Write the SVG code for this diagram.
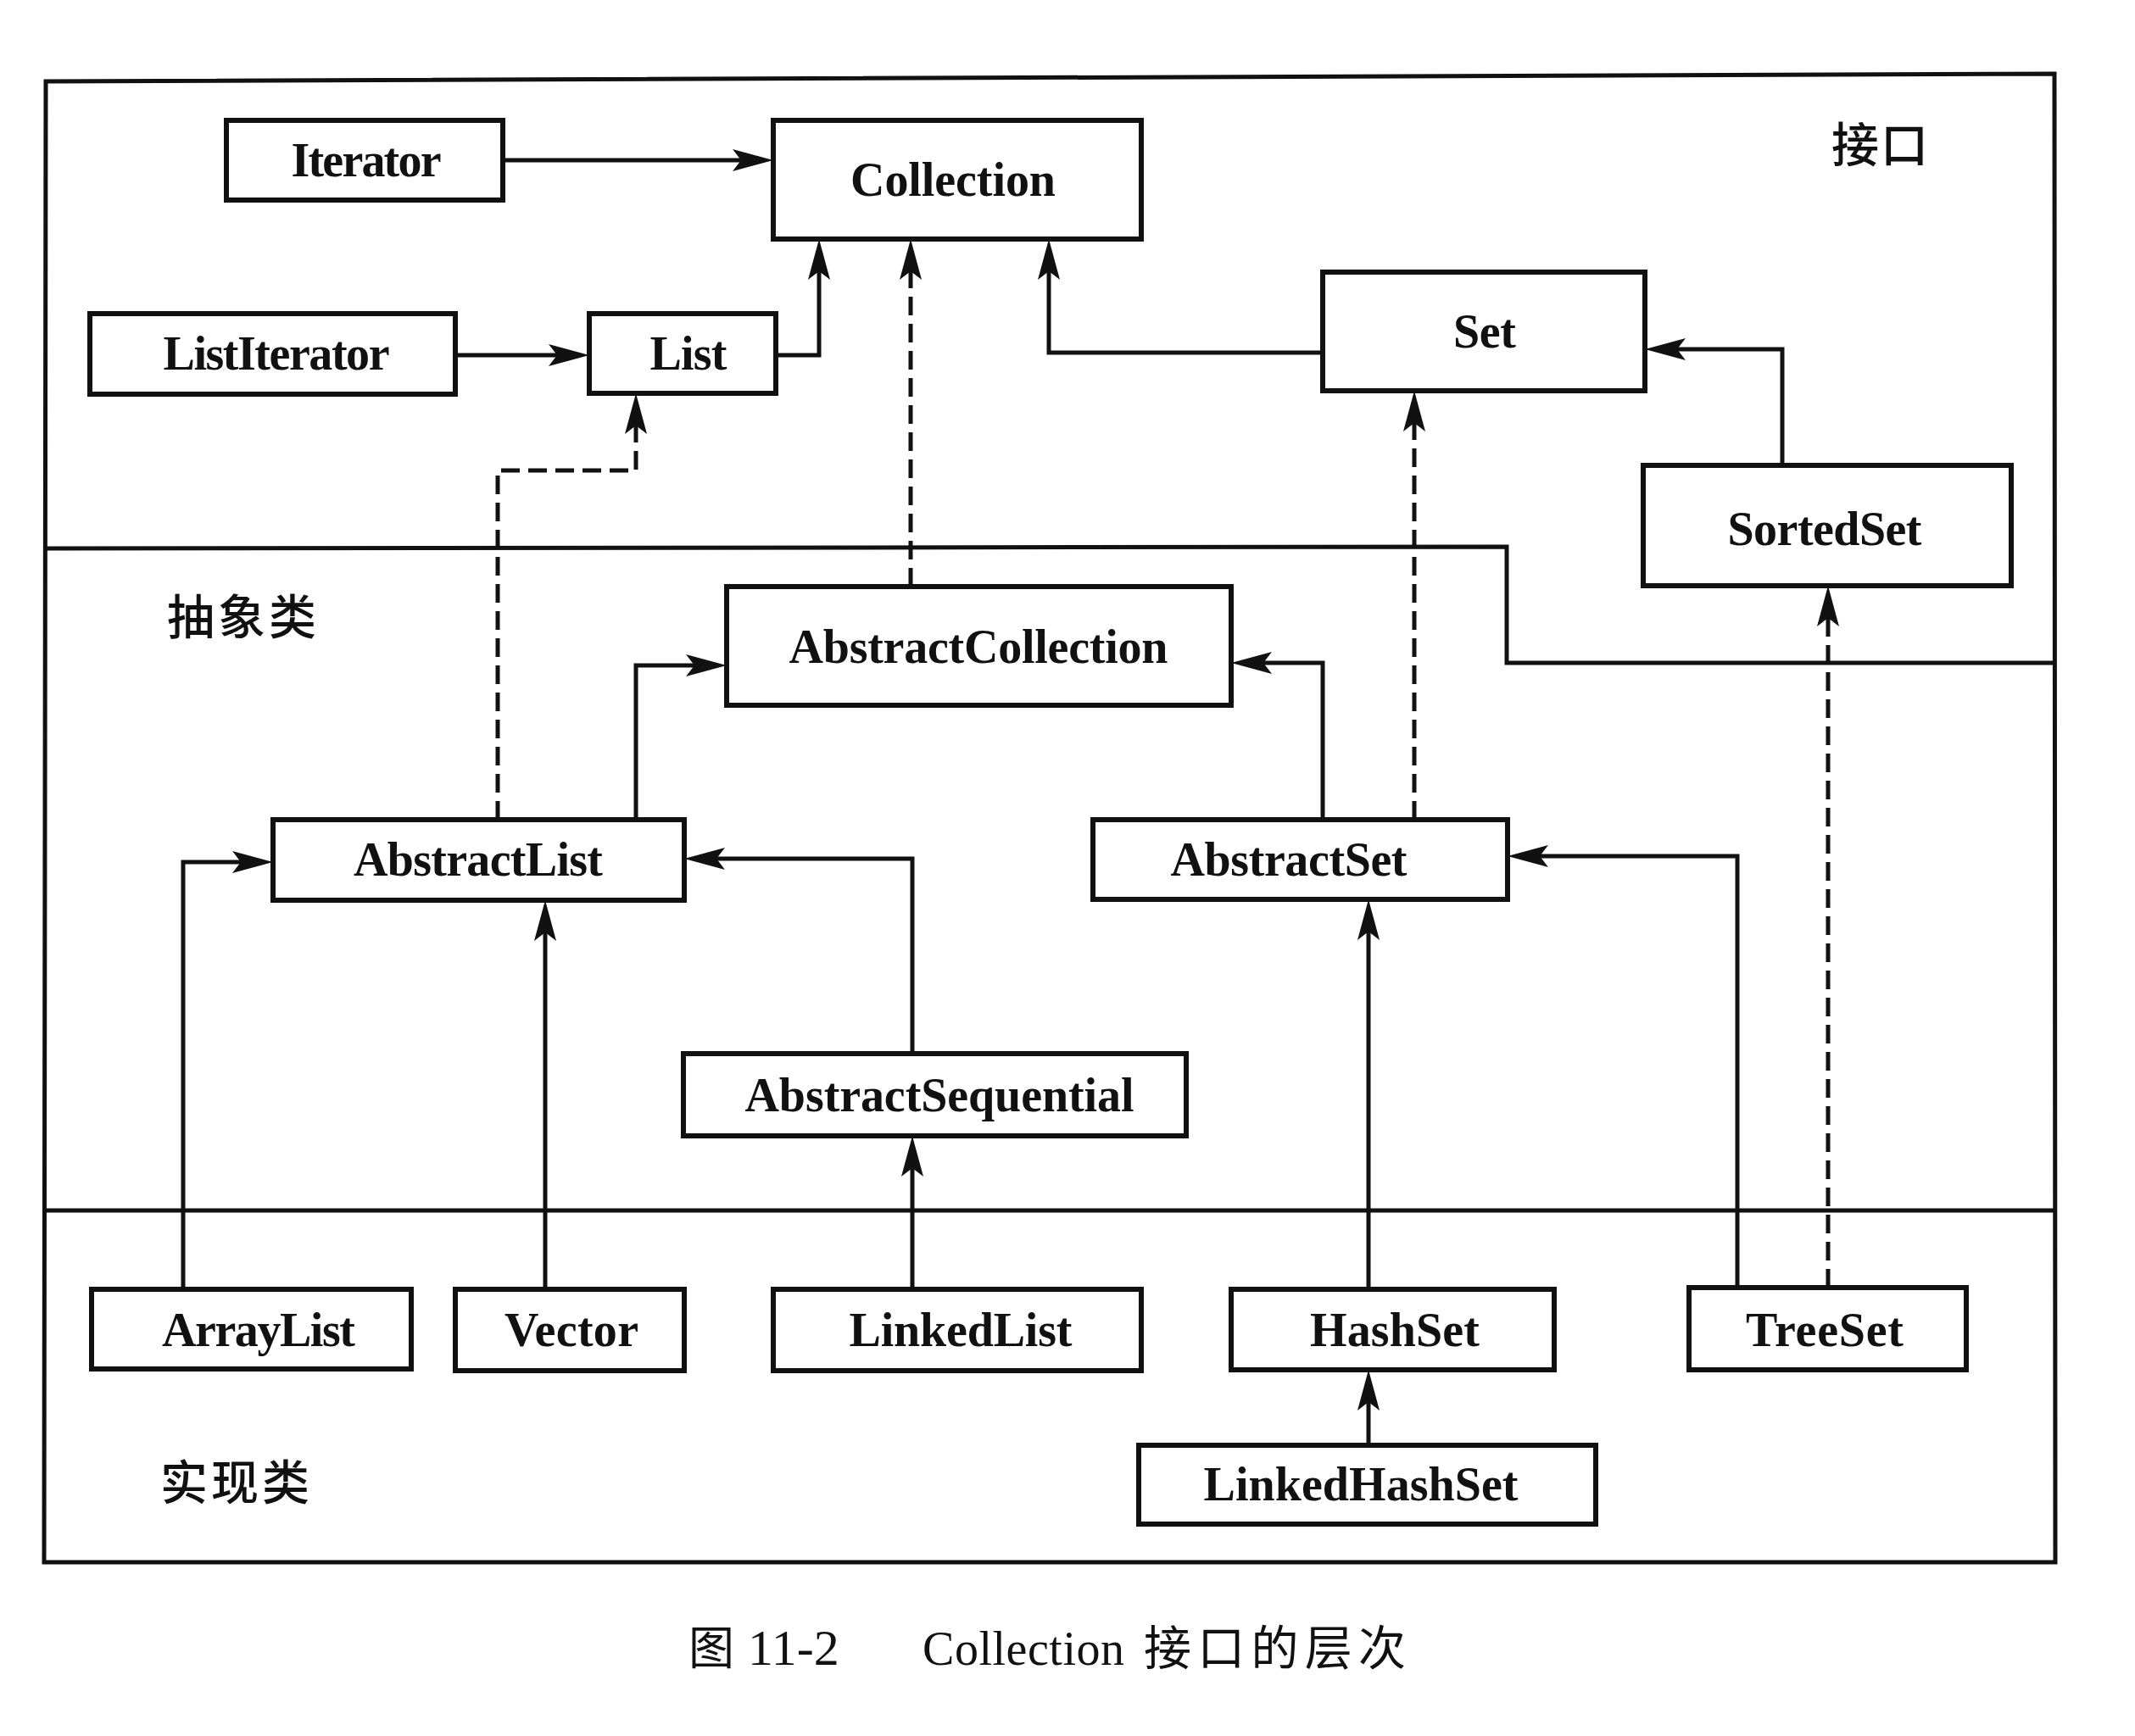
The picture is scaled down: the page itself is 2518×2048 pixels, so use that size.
<svg xmlns="http://www.w3.org/2000/svg" width="2518" height="2048" viewBox="0 0 2518 2048">
<style>
.box{fill:#fff;stroke:#111;stroke-width:6}
.lbl{font-family:"Liberation Serif","Times New Roman",serif;font-weight:bold;font-size:56px;fill:#111;text-anchor:middle}
.cjk{font-family:"Noto Sans CJK SC","Noto Sans CJK JP",sans-serif;font-size:56px;fill:#111}
.frame{fill:none;stroke:#111;stroke-width:5;stroke-linejoin:miter}
.con{fill:none;stroke:#111;stroke-width:5;stroke-linejoin:miter}
.dash{stroke-dasharray:22 10}
</style>
<defs>
<marker id="arr" viewBox="-40 -15 60 30" refX="0" refY="0" markerWidth="60" markerHeight="30" markerUnits="userSpaceOnUse" orient="auto">
<path d="M12,0 L-36,-13 L-26,0 L-36,13 Z" fill="#111"/>
</marker>
</defs>
<rect width="2518" height="2048" fill="#fff"/>
<g id="frame">
<path class="frame" d="M54,96 L2423,87 L2424,1843 L52,1843 Z"/>
<path class="frame" d="M54,647 L1777,645 L1777,782 L2423,782"/>
<path class="frame" d="M54,1428 L2423,1428"/>
<text class="cjk" x="2160" y="191" letter-spacing="2" font-weight="500">接口</text>
<text class="cjk" x="197" y="748" letter-spacing="4" font-weight="500">抽象类</text>
<text class="cjk" x="189" y="1769" letter-spacing="4" font-weight="500">实现类</text>
</g>
<g id="connectors">
<path class="con" d="M593,189 H900" marker-end="url(#arr)"/>
<path class="con" d="M537,419 H683" marker-end="url(#arr)"/>
<path class="con" d="M915,419 H966 V294" marker-end="url(#arr)"/>
<path class="con" d="M1560,416 H1237 V294" marker-end="url(#arr)"/>
<path class="con" d="M2102,549 V412 H1952" marker-end="url(#arr)"/>
<path class="con" d="M750,967 V785 H845" marker-end="url(#arr)"/>
<path class="con" d="M1560,967 V782 H1464" marker-end="url(#arr)"/>
<path class="con" d="M216,1521 V1017 H310" marker-end="url(#arr)"/>
<path class="con" d="M643,1521 V1074" marker-end="url(#arr)"/>
<path class="con" d="M1076,1243 V1013 H819" marker-end="url(#arr)"/>
<path class="con" d="M1076,1521 V1352" marker-end="url(#arr)"/>
<path class="con" d="M1614,1521 V1073" marker-end="url(#arr)"/>
<path class="con" d="M2049,1519 V1010 H1790" marker-end="url(#arr)"/>
<path class="con" d="M1614,1705 V1628" marker-end="url(#arr)"/>
<path class="con dash" d="M1074,692 V294" marker-end="url(#arr)"/>
<path class="con dash" d="M587,967 V555 H750 V476" marker-end="url(#arr)"/>
<path class="con dash" d="M1668,967 V473" marker-end="url(#arr)"/>
<path class="con dash" d="M2156,1519 V703" marker-end="url(#arr)"/>
</g>
<g id="Iterator"><rect class="box" x="267" y="142" width="326" height="94"/><text class="lbl" x="432" y="208" textLength="177">Iterator</text></g>
<g id="Collection"><rect class="box" x="912" y="142" width="434" height="140"/><text class="lbl" x="1124" y="231" textLength="242">Collection</text></g>
<g id="ListIterator"><rect class="box" x="106" y="370" width="431" height="95"/><text class="lbl" x="326" y="436" textLength="267">ListIterator</text></g>
<g id="List"><rect class="box" x="695" y="370" width="220" height="94"/><text class="lbl" x="812" y="436" textLength="91">List</text></g>
<g id="Set"><rect class="box" x="1560" y="321" width="380" height="140"/><text class="lbl" x="1751" y="410" textLength="74">Set</text></g>
<g id="SortedSet"><rect class="box" x="1938" y="549" width="434" height="142"/><text class="lbl" x="2152" y="643" textLength="229">SortedSet</text></g>
<g id="AbstractCollection"><rect class="box" x="857" y="692" width="595" height="140"/><text class="lbl" x="1154" y="782" textLength="447">AbstractCollection</text></g>
<g id="AbstractList"><rect class="box" x="322" y="967" width="485" height="95"/><text class="lbl" x="564" y="1033" textLength="294">AbstractList</text></g>
<g id="AbstractSet"><rect class="box" x="1289" y="967" width="489" height="94"/><text class="lbl" x="1520" y="1033" textLength="279">AbstractSet</text></g>
<g id="AbstractSequential"><rect class="box" x="806" y="1243" width="593" height="97"/><text class="lbl" x="1108" y="1311" textLength="459">AbstractSequential</text></g>
<g id="ArrayList"><rect class="box" x="108" y="1521" width="377" height="94"/><text class="lbl" x="305" y="1588" textLength="228">ArrayList</text></g>
<g id="Vector"><rect class="box" x="537" y="1521" width="270" height="96"/><text class="lbl" x="674" y="1588" textLength="158">Vector</text></g>
<g id="LinkedList"><rect class="box" x="912" y="1521" width="434" height="96"/><text class="lbl" x="1133" y="1588" textLength="263">LinkedList</text></g>
<g id="HashSet"><rect class="box" x="1452" y="1521" width="381" height="95"/><text class="lbl" x="1645" y="1588" textLength="200">HashSet</text></g>
<g id="TreeSet"><rect class="box" x="1992" y="1519" width="327" height="97"/><text class="lbl" x="2152" y="1588" textLength="186">TreeSet</text></g>
<g id="LinkedHashSet"><rect class="box" x="1343" y="1705" width="539" height="93"/><text class="lbl" x="1605" y="1770" textLength="371">LinkedHashSet</text></g>
<g id="caption">
<text y="1964" fill="#111"><tspan x="812" class="cjk" style="font-size:54px">图</tspan><tspan x="882" font-family="Liberation Serif, serif" font-size="60">11-2</tspan><tspan x="1088" font-family="Liberation Serif, serif" font-size="56" textLength="238">Collection</tspan><tspan x="1349" class="cjk" textLength="309">接口的层次</tspan></text>
</g>
</svg>
